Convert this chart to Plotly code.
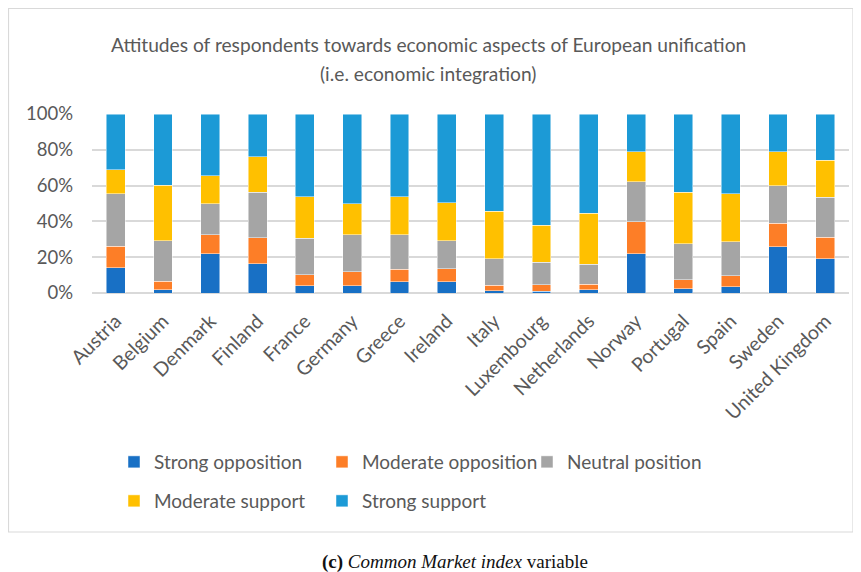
import plotly.graph_objects as go

countries = ["Austria", "Belgium", "Denmark", "Finland", "France", "Germany", "Greece",
             "Ireland", "Italy", "Luxembourg", "Netherlands", "Norway", "Portugal",
             "Spain", "Sweden", "United Kingdom"]

strong_opposition = [14.2, 1.9, 22.0, 16.4, 4.1, 4.1, 6.3, 6.3, 1.3, 1.1, 1.9, 22.0, 2.4, 3.4, 25.9, 19.2]
moderate_opposition = [11.9, 4.8, 10.6, 14.5, 6.0, 7.8, 7.1, 7.3, 3.0, 3.4, 3.1, 17.9, 5.0, 6.3, 13.2, 11.9]
neutral_position = [29.4, 22.5, 17.3, 25.3, 20.4, 20.7, 19.2, 15.5, 14.9, 12.6, 11.2, 22.3, 20.2, 19.0, 20.9, 22.5]
moderate_support = [13.4, 30.9, 15.5, 19.8, 23.3, 17.4, 21.2, 21.4, 26.4, 20.7, 28.3, 16.8, 28.6, 26.8, 19.0, 20.7]
strong_support = [31.1, 39.9, 34.6, 24.0, 46.2, 50.0, 46.2, 49.5, 54.4, 62.2, 55.5, 21.0, 43.8, 44.5, 21.0, 25.7]

series = [
    ("Strong opposition", strong_opposition, "#1870C5", "legend"),
    ("Moderate opposition", moderate_opposition, "#FD7E27", "legend4"),
    ("Neutral position", neutral_position, "#A5A5A5", "legend3"),
    ("Moderate support", moderate_support, "#FFC000", "legend2"),
    ("Strong support", strong_support, "#1C9AD6", "legend5"),
]

fig = go.Figure()
for name, vals, col, lg in series:
    fig.add_trace(go.Bar(x=countries, y=vals, name=name, legend=lg,
                         marker=dict(color=col, line=dict(color="rgba(255,255,255,0.6)", width=0.8))))

# page has an 8px body margin: figure pixel = page pixel - 8
OFF = 8
W, H = 861 - OFF, 572 - OFF
L = 92 - OFF
Rx = 849 - OFF
T = 114 - OFF
Bt = 293 - OFF
R, B = W - Rx, H - Bt
pw, ph = Rx - L, Bt - T

def px(x):
    return (x - OFF - L) / pw

def py(y):
    return (Bt - (y - OFF)) / ph

def cx(x):
    return (x - OFF) / W

def cy(y):
    return 1 - (y - OFF) / H

gray = "#595959"
font_fam = "Lato, 'Noto Sans', sans-serif"

leg_common = dict(orientation="h", xanchor="left", yanchor="top",
                  xref="container", yref="container",
                  font=dict(size=19, color=gray), traceorder="normal",
                  bgcolor="rgba(0,0,0,0)")

fig.update_layout(
    width=W, height=H,
    margin=dict(l=L, r=R, t=T, b=B, autoexpand=False),
    barmode="stack",
    bargap=0.6,
    plot_bgcolor="white",
    paper_bgcolor="white",
    font=dict(family=font_fam, color=gray, size=16),
    showlegend=True,
    legend=dict(x=cx(114), y=cy(443), **leg_common),
    legend4=dict(x=cx(322), y=cy(443), **leg_common),
    legend3=dict(x=cx(527), y=cy(443), **leg_common),
    legend2=dict(x=cx(114), y=cy(482), **leg_common),
    legend5=dict(x=cx(322), y=cy(482), **leg_common),
    xaxis=dict(tickangle=-45, showgrid=False, showline=False, ticks="",
               ticklabelstandoff=12,
               tickfont=dict(size=19.5, color=gray)),
    yaxis=dict(range=[0, 100], dtick=20, ticksuffix="%", showgrid=True,
               gridcolor="#D9D9D9", gridwidth=1.5, zeroline=True, zerolinecolor="#D9D9D9",
               zerolinewidth=1.5, showline=False, ticks="", ticklabelstandoff=18,
               tickfont=dict(size=18.5, color=gray)),
    shapes=[dict(type="rect", xref="paper", yref="paper",
                 x0=px(8.5), x1=px(853), y0=py(532), y1=py(8.5),
                 line=dict(color="#D9D9D9", width=1.2), fillcolor="rgba(0,0,0,0)", layer="below")],
    annotations=[
        dict(text="Attitudes of respondents towards economic aspects of European unification",
             x=px(428), y=py(45), xref="paper", yref="paper", showarrow=False,
             xanchor="center", yanchor="middle", font=dict(size=19.2, color=gray, family=font_fam)),
        dict(text="(i.e. economic integration)",
             x=px(428), y=py(73), xref="paper", yref="paper", showarrow=False,
             xanchor="center", yanchor="middle", font=dict(size=19.2, color=gray, family=font_fam)),
        dict(text="<b>(c)</b> <i>Common Market index</i> variable",
             x=px(455), y=py(562), xref="paper", yref="paper", showarrow=False,
             xanchor="center", yanchor="middle",
             font=dict(size=19, color="#111111", family="'Liberation Serif', 'Times New Roman', serif")),
    ],
)

fig.write_html("out.html")
